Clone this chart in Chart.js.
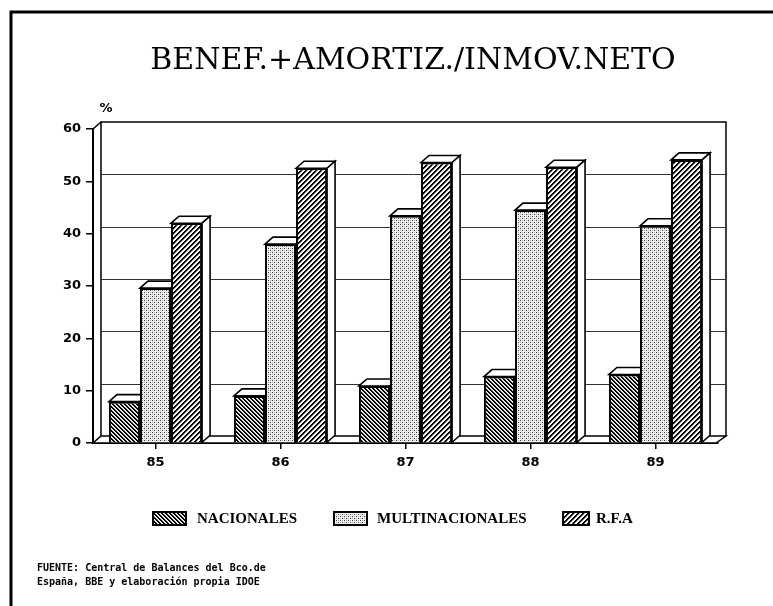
<!DOCTYPE html>
<html>
<head>
<meta charset="utf-8">
<script src="https://cdn.jsdelivr.net/npm/chart.js@4.4.0/dist/chart.umd.min.js"></script>
<style>
  html, body { margin: 0; padding: 0; background: #fff; }
  canvas { display: block; }
</style>
</head>
<body>
<canvas id="c" width="773" height="606"></canvas>
<script>
// ---- data ----
const categories = ['85', '86', '87', '88', '89'];
const nacionales = [7.9, 9.0, 10.9, 12.7, 13.1];
const multinacionales = [29.6, 38.0, 43.4, 44.5, 41.5];
const rfa = [42.0, 52.5, 53.6, 52.7, 54.1];
const seriesLabels = ['NACIONALES', 'MULTINACIONALES', 'R.F.A'];
const yMin = 0, yMax = 60, yStep = 10;
const titleText = 'BENEF.+AMORTIZ./INMOV.NETO';
const unitText = '%';
const sourceLines = ['FUENTE: Central de Balances del Bco.de', 'España, BBE y elaboración propia IDOE'];

// ---- patterns (pixel tiles) ----
function makeTile(size, colorAt) {
  const t = document.createElement('canvas');
  t.width = size; t.height = size;
  const g = t.getContext('2d');
  const img = g.createImageData(size, size);
  for (let yy = 0; yy < size; yy++) {
    for (let xx = 0; xx < size; xx++) {
      const v = colorAt(xx, yy);
      const o = (yy * size + xx) * 4;
      img.data[o] = v; img.data[o + 1] = v; img.data[o + 2] = v; img.data[o + 3] = 255;
    }
  }
  g.putImageData(img, 0, 0);
  return document.getElementById('c').getContext('2d').createPattern(t, 'repeat');
}
// "\\\\" dense hatch
const patBack = makeTile(4, (x, y) => {
  const m = ((x - y) % 4 + 4) % 4;
  return m === 0 || m === 1 ? 0 : (m === 2 ? 200 : 255);
});
// light stipple
const patDots = makeTile(4, (x, y) => {
  if ((x === 0 && y === 0) || (x === 2 && y === 2)) return 60;
  if ((x === 2 && y === 0) || (x === 0 && y === 2)) return 175;
  return 240;
});
// "////" hatch
const patFwd = makeTile(5, (x, y) => {
  const m = (x + y) % 5;
  return m === 0 || m === 1 ? 0 : (m === 2 ? 150 : 255);
});
const patterns = [patBack, patDots, patFwd];

const DX = 8, DY = -7;

const depthPlugin = {
  id: 'depth',
  beforeDatasetsDraw(chart) {
    const { ctx, chartArea: a } = chart;
    const y = chart.scales.y;
    ctx.save();
    // back wall
    ctx.strokeStyle = '#000';
    ctx.lineWidth = 1.5;
    ctx.beginPath();
    ctx.moveTo(a.left + DX, a.bottom + DY);
    ctx.lineTo(a.left + DX, a.top + DY);
    ctx.lineTo(a.right + DX, a.top + DY);
    ctx.lineTo(a.right + DX, a.bottom + DY);
    ctx.stroke();
    ctx.beginPath();
    ctx.moveTo(a.left, a.top);
    ctx.lineTo(a.left + DX, a.top + DY);
    ctx.stroke();
    // grid lines on back wall
    ctx.lineWidth = 1;
    ctx.strokeStyle = '#333';
    for (let v = yMin + yStep; v < yMax; v += yStep) {
      const py = Math.round(y.getPixelForValue(v) + DY) + 0.5;
      ctx.beginPath();
      ctx.moveTo(a.left + DX, py);
      ctx.lineTo(a.right + DX, py);
      ctx.stroke();
    }
    // floor
    ctx.fillStyle = '#fff';
    ctx.strokeStyle = '#000';
    ctx.lineWidth = 1.5;
    ctx.beginPath();
    ctx.moveTo(a.left, a.bottom);
    ctx.lineTo(a.right - 2, a.bottom);
    ctx.lineTo(a.right + DX, a.bottom + DY);
    ctx.lineTo(a.left + DX, a.bottom + DY);
    ctx.closePath();
    ctx.fill();
    ctx.stroke();
    // 3D faces of bars
    ctx.lineWidth = 1.6;
    chart.data.datasets.forEach((ds, i) => {
      const meta = chart.getDatasetMeta(i);
      meta.data.forEach(bar => {
        const p = bar.getProps(['x', 'y', 'base', 'width'], true);
        const l = p.x - p.width / 2, r = p.x + p.width / 2;
        ctx.beginPath();
        ctx.moveTo(l, p.y);
        ctx.lineTo(l + DX, p.y + DY);
        ctx.lineTo(r + DX, p.y + DY);
        ctx.lineTo(r, p.y);
        ctx.closePath();
        ctx.fill(); ctx.stroke();
        ctx.beginPath();
        ctx.moveTo(r, p.y);
        ctx.lineTo(r + DX, p.y + DY);
        ctx.lineTo(r + DX, p.base + DY);
        ctx.lineTo(r, p.base);
        ctx.closePath();
        ctx.fill(); ctx.stroke();
      });
    });
    ctx.restore();
  },
  afterDraw(chart) {
    const { ctx } = chart;
    ctx.save();
    // frame (left and top)
    ctx.strokeStyle = '#000';
    ctx.lineWidth = 3;
    ctx.beginPath();
    ctx.moveTo(11, 606);
    ctx.lineTo(11, 12);
    ctx.lineTo(773, 12);
    ctx.stroke();
    // title
    ctx.fillStyle = '#000';
    ctx.font = '30px "DejaVu Serif", "Liberation Serif", serif';
    ctx.textAlign = 'center';
    ctx.textBaseline = 'alphabetic';
    ctx.fillText(titleText, 413, 69);
    // unit
    ctx.font = 'bold 13px "DejaVu Sans", sans-serif';
    ctx.textBaseline = 'middle';
    ctx.fillText(unitText, 106, 109);
    // legend
    const items = [
      { bx: 153, tx: 197 },
      { bx: 334, tx: 377 },
      { bx: 563, tx: 596 }
    ];
    ctx.font = 'bold 15px "Liberation Serif", "DejaVu Serif", serif';
    ctx.textAlign = 'left';
    chart.data.datasets.forEach((ds, i) => {
      const it = items[i];
      const bw = i === 2 ? 26 : 33;
      ctx.fillStyle = ds.backgroundColor;
      ctx.fillRect(it.bx, 512, bw, 13);
      ctx.lineWidth = 2;
      ctx.strokeStyle = '#000';
      ctx.strokeRect(it.bx, 512, bw, 13);
      ctx.fillStyle = '#000';
      ctx.fillText(ds.label, it.tx, 519);
    });
    // source
    ctx.font = 'bold 10px "DejaVu Sans Mono", monospace';
    ctx.fillText(sourceLines[0], 37, 568);
    ctx.fillText(sourceLines[1], 37, 582);
    ctx.restore();
  }
};

new Chart(document.getElementById('c'), {
  type: 'bar',
  data: {
    labels: categories,
    datasets: [
      { label: seriesLabels[0], data: nacionales, backgroundColor: patterns[0] },
      { label: seriesLabels[1], data: multinacionales, backgroundColor: patterns[1] },
      { label: seriesLabels[2], data: rfa, backgroundColor: patterns[2] }
    ]
  },
  options: {
    responsive: false,
    animation: false,
    devicePixelRatio: 1,
    layout: { padding: { left: 20, top: 129, right: 55, bottom: 133 } },
    datasets: {
      bar: {
        borderColor: '#000',
        borderWidth: 2,
        categoryPercentage: 0.745,
        barPercentage: 1.0
      }
    },
    plugins: {
      legend: { display: false },
      title: { display: false },
      tooltip: { enabled: false }
    },
    scales: {
      x: {
        afterFit: s => { s.height = 30; },
        grid: { display: true, drawOnChartArea: false, drawTicks: true, tickLength: 6, offset: false, color: '#000', lineWidth: 1.5 },
        border: { display: true, color: '#000', width: 2 },
        ticks: { color: '#000', padding: 6, font: { family: '"DejaVu Sans", sans-serif', weight: 'bold', size: 13 } }
      },
      y: {
        min: yMin, max: yMax,
        afterFit: s => { s.width = 73; },
        grid: { display: true, drawOnChartArea: false, drawTicks: true, tickLength: 7, color: '#000', lineWidth: 1.5 },
        border: { display: true, color: '#000', width: 2 },
        ticks: { stepSize: yStep, color: '#000', padding: 5, font: { family: '"DejaVu Sans", sans-serif', weight: 'bold', size: 13 } }
      }
    }
  },
  plugins: [depthPlugin]
});
</script>
</body>
</html>
